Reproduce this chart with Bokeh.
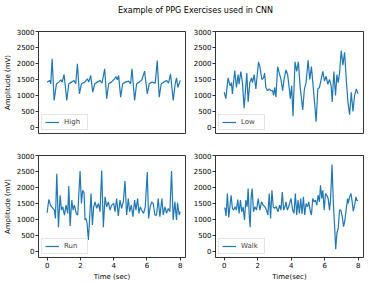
from bokeh.plotting import figure
from bokeh.layouts import column, row
from bokeh.models import FixedTicker, Range1d, Label
from bokeh.embed import file_html
from bokeh.resources import INLINE

TITLE = "Example of PPG Exercises used in CNN"
Y_TICKS = [0, 500, 1000, 1500, 2000, 2500, 3000]
X_TICKS = [0, 2, 4, 6, 8]

HIGH_T = [0.00, 0.16, 0.22, 0.30, 0.42, 0.56, 0.70, 0.82, 0.90, 1.02,
          1.18, 1.30, 1.46, 1.62, 1.72, 1.82, 1.94, 2.06, 2.26, 2.42,
          2.50, 2.62, 2.74, 2.86, 3.02, 3.18, 3.30, 3.46, 3.58, 3.70,
          3.86, 4.06, 4.14, 4.22, 4.30, 4.42, 4.54, 4.70, 4.90, 5.02,
          5.10, 5.26, 5.38, 5.54, 5.70, 5.86, 6.02, 6.14, 6.30, 6.50,
          6.62, 6.74, 6.86, 7.02, 7.18, 7.30, 7.42, 7.58, 7.70, 7.78,
          7.86, 8.00]
HIGH_V = [1417, 1469, 1365, 2146, 844, 1365, 1417, 1490, 1417, 1656,
          844, 1365, 1417, 1469, 1365, 1990, 1052, 1365, 1417, 1521,
          1417, 1625, 1104, 1365, 1417, 1469, 1386, 1833, 896, 1365,
          1417, 1521, 1594, 1490, 1625, 948, 1365, 1417, 1448, 1365,
          1833, 844, 1365, 1417, 1490, 1760, 1052, 1365, 1417, 1386,
          2094, 948, 1365, 1417, 1469, 1386, 1677, 844, 1365, 1550,
          1250, 1470]

LOW_T = [0.00, 0.10, 0.23, 0.35, 0.43, 0.49, 0.63, 0.73, 0.83, 0.89,
         0.99, 1.09, 1.19, 1.29, 1.35, 1.43, 1.53, 1.63, 1.69, 1.79,
         1.89, 2.05, 2.13, 2.25, 2.35, 2.41, 2.49, 2.59, 2.69, 2.79,
         2.89, 2.95, 3.01, 3.09, 3.19, 3.29, 3.39, 3.49, 3.59, 3.69,
         3.79, 3.89, 3.95, 4.03, 4.11, 4.23, 4.33, 4.43, 4.53, 4.69,
         4.79, 4.89, 5.01, 5.11, 5.21, 5.31, 5.41, 5.49, 5.59, 5.69,
         5.79, 5.89, 5.99, 6.09, 6.19, 6.29, 6.39, 6.45, 6.55, 6.65,
         6.73, 6.81, 6.89, 6.99, 7.09, 7.19, 7.29, 7.39, 7.49, 7.59,
         7.69, 7.79, 7.89, 7.99]
LOW_V = [1100, 900, 1550, 1300, 1400, 1050, 1780, 1250, 1650, 1350,
         1750, 1400, 600, 1300, 1700, 800, 1400, 1550, 1400, 1650,
         1200, 2050, 1900, 1500, 1550, 1700, 1250, 1150, 1200, 1150,
         1150, 1000, 1250, 950, 1900, 1700, 1500, 1150, 1550, 1800,
         1650, 1200, 900, 1300, 350, 2050, 1750, 2050, 1300, 550,
         1200, 1400, 2100, 1500, 1900, 1300, 700, 180, 1200, 1250,
         1500, 1750, 1450, 1600, 1350, 1500, 1300, 800, 1750, 1000,
         1650, 1400, 1700, 2400, 1950, 2350, 1500, 800, 400, 1100,
         500, 1000, 1200, 1050]

RUN_T = [0.00, 0.10, 0.20, 0.34, 0.44, 0.50, 0.58, 0.68, 0.78, 0.86,
         0.94, 1.04, 1.14, 1.24, 1.30, 1.38, 1.48, 1.56, 1.64, 1.76,
         1.84, 1.98, 2.06, 2.14, 2.22, 2.28, 2.34, 2.40, 2.48, 2.56,
         2.64, 2.72, 2.80, 2.88, 2.98, 3.08, 3.18, 3.28, 3.38, 3.48,
         3.58, 3.68, 3.78, 3.88, 4.00, 4.08, 4.18, 4.28, 4.38, 4.48,
         4.58, 4.68, 4.78, 4.88, 4.96, 5.06, 5.16, 5.26, 5.34, 5.44,
         5.52, 5.60, 5.68, 5.80, 5.90, 6.02, 6.10, 6.20, 6.28, 6.38,
         6.48, 6.58, 6.68, 6.78, 6.90, 6.98, 7.08, 7.18, 7.28, 7.38,
         7.48, 7.58, 7.68, 7.78, 7.84, 7.94, 8.00]
RUN_V = [1210, 1624, 1448, 1345, 1293, 1034, 2430, 755, 1758, 1293,
         1396, 1138, 1448, 1190, 2047, 796, 1603, 1293, 1448, 1169,
         1140, 2513, 1500, 1913, 1830, 982, 1034, 879, 362, 1086,
         1810, 827, 1396, 1551, 1345, 1500, 1241, 2533, 755, 1706,
         1396, 1551, 1293, 1448, 1500, 1241, 1655, 1107, 1603, 1345,
         1551, 2203, 1138, 1655, 1241, 1448, 1086, 1603, 1293, 1655,
         1190, 1396, 1293, 1190, 1396, 2482, 1034, 1396, 1551, 1500,
         1138, 1138, 1655, 1086, 1655, 1138, 1396, 1190, 1345, 1241,
         2513, 982, 1551, 982, 1520, 1138, 1241]

WALK_T = [0.00, 0.05, 0.11, 0.19, 0.27, 0.35, 0.41, 0.49, 0.57, 0.65,
          0.73, 0.81, 0.89, 0.97, 1.05, 1.13, 1.21, 1.29, 1.37, 1.43,
          1.49, 1.55, 1.61, 1.67, 1.75, 1.83, 1.93, 2.03, 2.13, 2.23,
          2.33, 2.43, 2.53, 2.61, 2.69, 2.77, 2.85, 2.93, 3.01, 3.11,
          3.21, 3.31, 3.39, 3.47, 3.55, 3.63, 3.69, 3.77, 3.85, 3.99,
          4.09, 4.17, 4.25, 4.33, 4.41, 4.49, 4.57, 4.65, 4.73, 4.81,
          4.89, 4.97, 5.05, 5.13, 5.21, 5.29, 5.37, 5.45, 5.53, 5.61,
          5.69, 5.75, 5.83, 5.89, 5.97, 6.05, 6.13, 6.21, 6.29, 6.35,
          6.44, 6.52, 6.60, 6.66, 6.73, 6.81, 6.89, 6.97, 7.05, 7.13,
          7.21, 7.29, 7.37, 7.41, 7.49, 7.57, 7.63, 7.71, 7.79, 7.87,
          7.93, 7.99]
WALK_V = [1365, 1345, 1107, 1810, 1065, 1448, 1758, 1345, 1293, 1396,
          1293, 1624, 1190, 1603, 1241, 1396, 982, 1603, 1396, 1965,
          1169, 755, 1706, 1965, 1241, 1396, 1293, 1655, 1293, 1551,
          1448, 1396, 1293, 1138, 1810, 1034, 1913, 1396, 1345, 1396,
          1241, 1448, 1293, 1861, 1293, 1396, 1551, 1293, 1396, 1655,
          1293, 1190, 1810, 1138, 1603, 1190, 1655, 1169, 1706, 1138,
          1500, 1396, 1551, 1293, 1138, 1655, 1551, 1603, 1448, 1758,
          1551, 2068, 1655, 1913, 1293, 1810, 1758, 1655, 1293, 1603,
          2720, 1500, 724, 72, 569, 724, 1293, 1293, 1086, 776,
          982, 1345, 1655, 1500, 1706, 1810, 1603, 1262, 1448, 1706,
          1582, 1603]

FONT = "DejaVu Sans"
BLUE = "#1f77b4"


def panel(t, v, name, w, h, bl, br, bt, bb, ylabel=None, xlabel=None):
    p = figure(width=w, height=h, x_range=Range1d(-0.52, 8.32),
               y_range=Range1d(-190, 3000), output_backend="svg",
               toolbar_location=None, min_border_left=bl, min_border_right=br,
               min_border_top=bt, min_border_bottom=bb)
    p.line(t, v, line_color=BLUE, line_width=1.2, legend_label=name)
    p.grid.visible = False
    p.outline_line_color = "black"
    p.outline_line_width = 0.8
    p.background_fill_color = "white"
    p.border_fill_color = "white"
    p.yaxis.ticker = FixedTicker(ticks=Y_TICKS)
    p.xaxis.ticker = FixedTicker(ticks=X_TICKS)
    for ax in p.axis:
        ax.axis_line_color = None
        ax.major_tick_out = 3
        ax.major_tick_in = 0
        ax.minor_tick_line_color = None
        ax.major_tick_line_width = 0.8
        ax.major_label_text_font = FONT
        ax.major_label_text_font_size = "7px"
        ax.major_label_text_color = "black"
        ax.major_label_standoff = 1
        ax.axis_label_text_font = FONT
        ax.axis_label_text_font_size = "7px"
        ax.axis_label_text_font_style = "normal"
        ax.axis_label_text_color = "black"
        ax.axis_label_standoff = 2
    if ylabel:
        p.yaxis.axis_label = ylabel
    if xlabel:
        p.xaxis.axis_label = xlabel
    else:
        p.xaxis.visible = False
    lg = p.legend[0]
    lg.location = "bottom_left"
    lg.label_text_font = FONT
    lg.label_text_font_size = "7px"
    lg.glyph_width = 14
    lg.glyph_height = 8
    lg.label_height = 8
    lg.label_standoff = 5
    lg.padding = 3
    lg.margin = 3
    lg.border_line_color = "#cccccc"
    lg.border_line_width = 0.8
    lg.background_fill_alpha = 0.8
    return p


title_fig = figure(width=374, height=20, x_range=Range1d(0, 1), y_range=Range1d(0, 1),
                   output_backend="svg", toolbar_location=None,
                   min_border_left=0, min_border_right=0, min_border_top=0, min_border_bottom=0)
title_fig.axis.visible = False
title_fig.grid.visible = False
title_fig.outline_line_color = None
title_fig.add_layout(Label(x=195, y=10, x_units="screen", y_units="screen", text=TITLE,
                           text_align="center", text_baseline="middle",
                           text_font=FONT, text_font_size="8px", text_color="black"))

p_high = panel(HIGH_T, HIGH_V, "High", 190, 124, 37, 5, 11, 11, ylabel="Amplitude (mV)")
p_low = panel(LOW_T, LOW_V, "Low", 184, 124, 25, 11, 11, 11)
p_run = panel(RUN_T, RUN_V, "Run", 190, 139, 37, 5, 11, 26, ylabel="Amplitude (mV)", xlabel="Time (sec)")
p_walk = panel(WALK_T, WALK_V, "Walk", 184, 139, 25, 11, 11, 26, xlabel="Time(sec)")

layout = column(title_fig, row(p_high, p_low), row(p_run, p_walk))

with open("out.html", "w") as f:
    f.write(file_html(layout, INLINE))
